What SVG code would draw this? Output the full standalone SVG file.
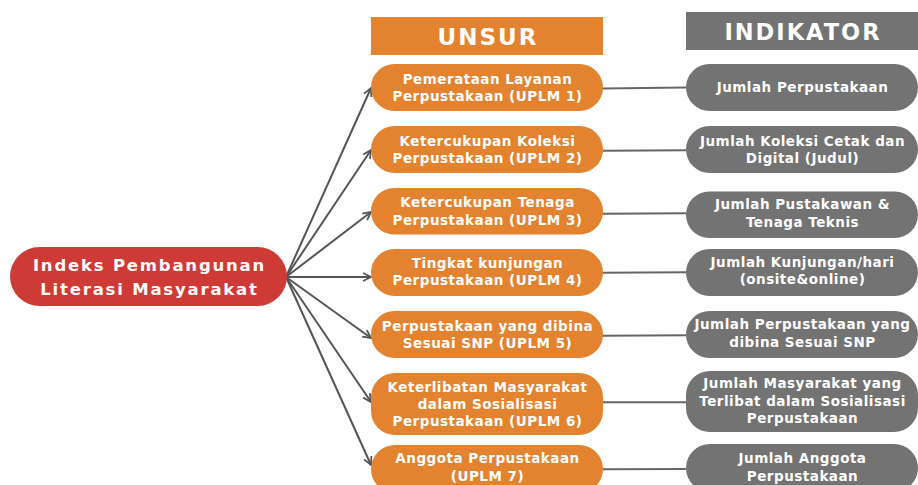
<svg xmlns="http://www.w3.org/2000/svg" width="918" height="485" viewBox="0 0 918 485">
  <defs>
    <style>
      .t { font-family: "DejaVu Sans", "Open Sans", sans-serif; font-weight: 700; fill: #ffffff; text-anchor: middle; }
      .n { font-size: 13.5px; letter-spacing: 0.5px; }
      .root { font-size: 16.5px; letter-spacing: 1.8px; }
      .h1 { font-size: 23px; letter-spacing: 2px; }
      .h2 { font-size: 22.5px; letter-spacing: 2px; }
      .orange { fill: #E3832F; }
      .gray { fill: #737373; }
      .red { fill: #CE3B37; }
      .arrow { stroke: #555555; stroke-width: 2; fill: none; }
      .link { stroke: #666666; stroke-width: 2; fill: none; }
    </style>
    <marker id="ah" viewBox="0 0 10 10" refX="9" refY="5" markerWidth="10" markerHeight="10" markerUnits="userSpaceOnUse" orient="auto">
      <path d="M1,1 L9,5 L1,9" fill="none" stroke="#555555" stroke-width="1.8"/>
    </marker>
  </defs>
  <rect width="918" height="485" fill="#ffffff"/>

  <g id="connectors">
    <line class="arrow" x1="286" y1="277" x2="371" y2="88" marker-end="url(#ah)"/>
    <line class="arrow" x1="286" y1="277" x2="371" y2="150" marker-end="url(#ah)"/>
    <line class="arrow" x1="286" y1="277" x2="371" y2="212" marker-end="url(#ah)"/>
    <line class="arrow" x1="286" y1="277" x2="371" y2="277" marker-end="url(#ah)"/>
    <line class="arrow" x1="286" y1="277" x2="371" y2="338" marker-end="url(#ah)"/>
    <line class="arrow" x1="286" y1="277" x2="371" y2="402" marker-end="url(#ah)"/>
    <line class="arrow" x1="286" y1="277" x2="371" y2="465" marker-end="url(#ah)"/>
    <line class="link" x1="602" y1="88.5" x2="686" y2="87.5"/>
    <line class="link" x1="602" y1="150.7" x2="686" y2="150.3"/>
    <line class="link" x1="602" y1="213.7" x2="686" y2="213.3"/>
    <line class="link" x1="602" y1="272.7" x2="686" y2="272.3"/>
    <line class="link" x1="602" y1="335.7" x2="686" y2="335.3"/>
    <line class="link" x1="602" y1="402.3" x2="686" y2="402.3"/>
    <line class="link" x1="602" y1="469.3" x2="686" y2="469"/>
  </g>

  <g id="root">
    <rect class="red" x="10" y="247" width="277" height="59" rx="29.5"/>
    <text class="t root" x="149.5" y="271">Indeks Pembangunan</text>
    <text class="t root" x="149.5" y="294.5">Literasi Masyarakat</text>
  </g>

  <g id="header-unsur">
    <rect class="orange" x="371" y="17" width="232" height="38"/>
    <text class="t h1" x="488" y="45">UNSUR</text>
  </g>
  <g id="header-indikator">
    <rect class="gray" x="686" y="12" width="232" height="38"/>
    <text class="t h2" x="803" y="40">INDIKATOR</text>
  </g>

  <g id="uplm1">
    <rect class="orange" x="371" y="64" width="232" height="47" rx="23.5"/>
    <text class="t n" x="487.5" y="84">Pemerataan Layanan</text>
    <text class="t n" x="487.5" y="101">Perpustakaan (UPLM 1)</text>
  </g>
  <g id="uplm2">
    <rect class="orange" x="371" y="126" width="232" height="47" rx="23.5"/>
    <text class="t n" x="487.5" y="145.7">Ketercukupan Koleksi</text>
    <text class="t n" x="487.5" y="163.3">Perpustakaan (UPLM 2)</text>
  </g>
  <g id="uplm3">
    <rect class="orange" x="371" y="188" width="232" height="46.5" rx="23.25"/>
    <text class="t n" x="487.5" y="207.3">Ketercukupan Tenaga</text>
    <text class="t n" x="487.5" y="224.5">Perpustakaan (UPLM 3)</text>
  </g>
  <g id="uplm4">
    <rect class="orange" x="371" y="249" width="232" height="47" rx="23.5"/>
    <text class="t n" x="487.5" y="267.7">Tingkat kunjungan</text>
    <text class="t n" x="487.5" y="285">Perpustakaan (UPLM 4)</text>
  </g>
  <g id="uplm5">
    <rect class="orange" x="371" y="311" width="232" height="47" rx="23.5"/>
    <text class="t n" x="487.5" y="330.7">Perpustakaan yang dibina</text>
    <text class="t n" x="487.5" y="347.5">Sesuai SNP (UPLM 5)</text>
  </g>
  <g id="uplm6">
    <rect class="orange" x="371" y="373" width="232" height="62" rx="24"/>
    <text class="t n" x="487.5" y="391.7">Keterlibatan Masyarakat</text>
    <text class="t n" x="487.5" y="408.5">dalam Sosialisasi</text>
    <text class="t n" x="487.5" y="425.7">Perpustakaan (UPLM 6)</text>
  </g>
  <g id="uplm7">
    <rect class="orange" x="371" y="445" width="232" height="48" rx="24"/>
    <text class="t n" x="487.5" y="463.3">Anggota Perpustakaan</text>
    <text class="t n" x="487.5" y="480.7">(UPLM 7)</text>
  </g>

  <g id="ind1">
    <rect class="gray" x="686" y="64" width="232" height="47" rx="23.5"/>
    <text class="t n" x="802.5" y="92.3">Jumlah Perpustakaan</text>
  </g>
  <g id="ind2">
    <rect class="gray" x="686" y="126" width="232" height="47" rx="23.5"/>
    <text class="t n" x="802.5" y="145.7">Jumlah Koleksi Cetak dan</text>
    <text class="t n" x="802.5" y="163.3">Digital (Judul)</text>
  </g>
  <g id="ind3">
    <rect class="gray" x="686" y="191.5" width="232" height="46.5" rx="23.25"/>
    <text class="t n" x="802.5" y="209.3">Jumlah Pustakawan &amp;</text>
    <text class="t n" x="802.5" y="226.7">Tenaga Teknis</text>
  </g>
  <g id="ind4">
    <rect class="gray" x="686" y="249" width="232" height="47" rx="23.5"/>
    <text class="t n" x="802.5" y="266.7">Jumlah Kunjungan/hari</text>
    <text class="t n" x="802.5" y="284">(onsite&amp;online)</text>
  </g>
  <g id="ind5">
    <rect class="gray" x="686" y="311" width="232" height="47" rx="23.5"/>
    <text class="t n" x="802.5" y="329.3">Jumlah Perpustakaan yang</text>
    <text class="t n" x="802.5" y="346.7">dibina Sesuai SNP</text>
  </g>
  <g id="ind6">
    <rect class="gray" x="686" y="371" width="232" height="61" rx="24"/>
    <text class="t n" x="802.5" y="388.3">Jumlah Masyarakat yang</text>
    <text class="t n" x="802.5" y="405.7">Terlibat dalam Sosialisasi</text>
    <text class="t n" x="802.5" y="423.3">Perpustakaan</text>
  </g>
  <g id="ind7">
    <rect class="gray" x="686" y="444" width="232" height="48" rx="24"/>
    <text class="t n" x="802.5" y="462.7">Jumlah Anggota</text>
    <text class="t n" x="802.5" y="480.7">Perpustakaan</text>
  </g>
</svg>
